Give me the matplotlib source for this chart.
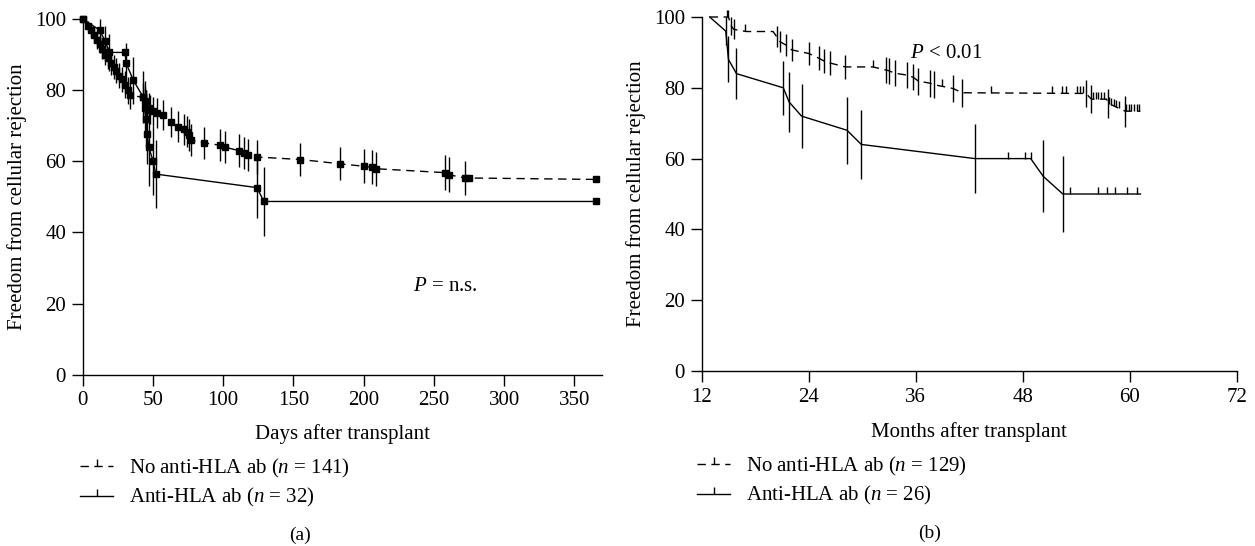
import numpy as np
import matplotlib
matplotlib.use('Agg')
import matplotlib.pyplot as plt
from matplotlib.lines import Line2D

plt.rcParams['font.family'] = ['Liberation Serif', 'DejaVu Serif']
plt.rcParams['mathtext.fontset'] = 'custom'
plt.rcParams['mathtext.rm'] = 'Liberation Serif'
plt.rcParams['mathtext.it'] = 'Liberation Serif:italic'

# ---- panel (a): days after transplant ----
# no anti-HLA ab (n = 141)
a_no_days = [0, 4, 6, 8, 10, 12, 14, 16, 18, 20, 22, 24, 26, 28, 30, 32, 34, 43, 44, 45,
             47, 48, 50, 53, 57, 63, 68, 72, 74, 76, 77, 86, 98, 101, 111, 115, 118, 124,
             155, 183, 200, 206, 209, 258, 261, 272, 275, 365]
a_no_surv = [100, 98, 97, 95.5, 94, 93, 91.5, 90, 89, 87.5, 86.5, 85.5, 84, 83, 81.5, 80,
             78.5, 78, 77, 76, 75, 74.5, 74, 73.5, 73, 71, 69.7, 69, 68.3, 67.4, 66, 65.2,
             64.5, 64, 63, 62.3, 61.8, 61.2, 60.5, 59.3, 58.6, 58.3, 57.9, 56.8, 56.2,
             55.3, 55.3, 54.9]
a_no_err = [0, 1.5, 2, 2.2, 2.5, 2.6, 2.8, 3, 3, 3.2, 3.3, 3.4, 3.5, 3.6, 3.8, 3.8, 3.9,
            3.9, 4, 4, 4.1, 4.1, 4.2, 4.2, 4.2, 4.3, 4.3, 4.4, 4.4, 4.4, 4.5, 4.5, 4.5,
            4.5, 4.6, 4.6, 4.6, 4.7, 4.7, 4.7, 4.8, 4.8, 4.8, 4.9, 4.9, 4.9, 0, 0]
# anti-HLA ab (n = 32)
a_ab_days = [0, 12, 16, 19, 30, 31, 36, 43, 44, 45, 46, 47, 50, 52, 124, 129, 365]
a_ab_surv = [100, 96.9, 93.8, 90.6, 90.6, 87.5, 82.8, 78.1, 75.0, 71.9, 67.7, 64.0, 60.2,
             56.4, 52.6, 48.7, 48.7]
a_ab_err = [0, 3, 4.3, 5.2, 0, 5.8, 6.6, 7.3, 7.7, 8.0, 8.5, 11, 9.6, 9.5, 8.5, 9.6, 0]

# ---- panel (b): months after transplant ----
# no anti-HLA ab (n = 129)
b_no_mon = [12.9, 15.0, 15.3, 15.6, 17.0, 20.0, 20.4, 20.8, 21.5, 22.1, 24.0, 25.1, 25.7,
            26.4, 28.1, 31.2, 32.7, 33.0, 33.7, 35.0, 35.7, 36.3, 37.6, 38.0, 40.2, 41.2,
            55.1, 55.7, 57.4, 57.6, 59.5, 61.2]
b_no_surv = [100, 100, 97.5, 96.5, 95.9, 95.9, 94.5, 93, 92, 90.7, 89.7, 88.4, 87.6, 87.0,
             85.9, 85.9, 85.0, 84.8, 84.1, 83.6, 83.0, 81.9, 81.3, 80.9, 79.8, 78.6, 78.4,
             76.8, 76.8, 75.6, 73.4, 73.4]
b_no_err = [0, 0, 2.5, 2.8, 0, 0, 2.9, 3.0, 3.1, 3.2, 3.3, 3.4, 3.4, 3.5, 3.3, 0, 3.6, 3.6,
            3.7, 3.7, 3.7, 3.8, 3.8, 3.8, 3.9, 3.9, 3.8, 4.0, 0, 4.1, 4.35, 0]
b_no_cens = [14.8, 15.0, 16.9, 31.2, 39.0, 44.5, 51.25, 52.4, 52.8, 54.1, 54.4, 54.8, 55.9,
             56.2, 56.5, 56.8, 57.1, 57.7, 57.9, 58.2, 58.5, 58.8, 59.6, 59.9, 60.2, 60.5,
             60.8, 61.0]
# anti-HLA ab (n = 26)
b_ab_mon = [12.9, 14.7, 15.0, 15.9, 21.15, 21.8, 23.2, 28.3, 29.9, 42.65, 48.9, 50.3,
            52.5, 61.2]
b_ab_surv = [100, 96, 88, 84, 80, 76, 72, 68, 64, 60, 60, 55, 50, 50]
b_ab_err = [0, 4, 6.5, 7.3, 7.7, 8.5, 9, 9.5, 9.7, 9.8, 0, 10.2, 10.6, 0]
b_ab_cens = [46.4, 48.3, 48.9, 53.3, 56.5, 57.4, 58.3, 59.7, 60.85]

fig = plt.figure(figsize=(12.55, 5.46), dpi=100)
axa = fig.add_axes([82.7 / 1255, 1 - 374.7 / 546, 519 / 1255, 355.7 / 546])
axb = fig.add_axes([701.7 / 1255, 1 - 371 / 546, 535 / 1255, 354 / 546])

lw = 1.0
dash = (0, (6, 4))


def km(ax, t, s, e, ls, squares=False):
    t = np.asarray(t, float)
    s = np.asarray(s, float)
    e = np.asarray(e, float)
    ax.plot(t, s, color='k', lw=lw, ls=ls, marker='s' if squares else None,
            ms=3.8, mfc='k', mec='k', clip_on=False)
    m = e > 0
    ax.vlines(t[m], s[m] - e[m], s[m] + e[m], color='k', lw=lw, clip_on=False)


km(axa, a_no_days, a_no_surv, a_no_err, dash, squares=True)
km(axa, a_ab_days, a_ab_surv, a_ab_err, '-', squares=True)

km(axb, b_no_mon, b_no_surv, b_no_err, dash)
km(axb, b_ab_mon, b_ab_surv, b_ab_err, '-')
axb.plot(b_no_cens, np.interp(b_no_cens, b_no_mon, b_no_surv), ls='none',
         marker=2, ms=5, mew=lw, color='k', clip_on=False)
axb.plot(b_ab_cens, np.interp(b_ab_cens, b_ab_mon, b_ab_surv), ls='none',
         marker=2, ms=5, mew=lw, color='k', clip_on=False)

fs = 15
for ax in (axa, axb):
    ax.set_ylim(0, 100)
    ax.set_yticks([0, 20, 40, 60, 80, 100])
    for sp in ('top', 'right'):
        ax.spines[sp].set_visible(False)
    for sp in ('left', 'bottom'):
        ax.spines[sp].set_linewidth(lw)
    ax.tick_params(direction='out', length=8, width=lw, labelsize=fs, pad=4, colors='k')
    ax.set_ylabel('Freedom from cellular rejection', fontsize=fs)

axa.set_xlim(0, 369.4)
axa.set_xticks([0, 50, 100, 150, 200, 250, 300, 350])
axa.set_xlabel('Days after transplant', fontsize=fs)
axa.yaxis.set_label_coords(-0.108, 0.5)
axa.xaxis.set_label_coords(0.5, -0.14)
axa.text(258, 24.7, '$P$ = n.s.', fontsize=fs, ha='center', va='center')

axb.set_xlim(12, 72)
axb.set_xticks([12, 24, 36, 48, 60, 72])
axb.set_xlabel('Months after transplant', fontsize=fs)
axb.yaxis.set_label_coords(-0.105, 0.5)
axb.xaxis.set_label_coords(0.5, -0.145)
axb.text(39.4, 89.8, '$P$ < 0.01', fontsize=fs, ha='center', va='center')


def handles():
    return [Line2D([0], [0], color='k', lw=lw, ls=dash, marker=2, ms=5, mew=lw),
            Line2D([0], [0], color='k', lw=lw, ls='-', marker=2, ms=5, mew=lw)]


fig.legend(handles(), ['No anti-HLA ab ($n$ = 141)', 'Anti-HLA ab ($n$ = 32)'],
           loc='upper left', bbox_to_anchor=(80 / 1255, 1 - 457 / 546), frameon=False,
           fontsize=fs, handlelength=1.6, handletextpad=0.75, labelspacing=0.3,
           borderaxespad=0, borderpad=0)
fig.legend(handles(), ['No anti-HLA ab ($n$ = 129)', 'Anti-HLA ab ($n$ = 26)'],
           loc='upper left', bbox_to_anchor=(697 / 1255, 1 - 455 / 546), frameon=False,
           fontsize=fs, handlelength=1.6, handletextpad=0.75, labelspacing=0.3,
           borderaxespad=0, borderpad=0)

fig.text(300 / 1255, 1 - 535 / 546, '(a)', fontsize=fs - 1, ha='center', va='center')
fig.text(930 / 1255, 1 - 533 / 546, '(b)', fontsize=fs - 1, ha='center', va='center')

fig.savefig('out.png', dpi=100)
